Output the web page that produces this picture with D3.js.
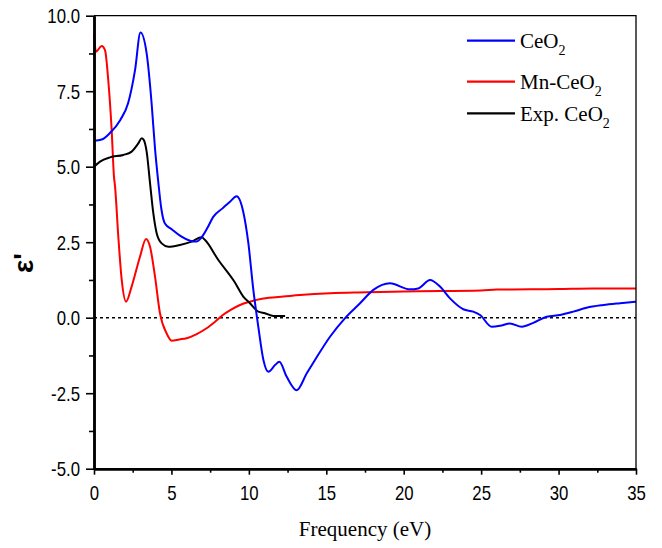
<!DOCTYPE html>
<html>
<head>
<meta charset="utf-8">
<script src="https://cdn.jsdelivr.net/npm/d3@7/dist/d3.min.js"></script>
<style>
  html, body { margin: 0; padding: 0; background: #fff; }
  svg { display: block; }
</style>
</head>
<body>
<svg id="chart" width="662" height="548"></svg>
<script>
// ---- Data ----
const ceo2X = [0, 0.5, 1.0, 1.7, 2.2, 2.65, 3.0, 3.4, 3.72, 3.94, 4.15, 4.35, 4.58, 5.02, 5.6, 6.2, 6.6, 6.95, 7.3, 7.7, 8.3, 8.8, 9.21, 9.64, 9.96, 10.29, 10.61, 10.94, 11.26, 11.69, 11.97, 12.44, 13.09, 13.74, 14.27, 15.24, 16.2, 17.18, 18.04, 19.11, 20.4, 20.94, 21.7, 22.34, 22.99, 23.85, 24.49, 24.93, 25.68, 26.22, 26.86, 27.62, 28.37, 29.23, 30.09, 30.95, 31.81, 32.89, 33.97, 35];
const ceo2Y = [5.86, 5.9, 6.1, 6.55, 7.1, 8.2, 9.44, 8.75, 7.1, 5.6, 4.5, 3.6, 3.12, 2.93, 2.7, 2.55, 2.52, 2.66, 2.95, 3.34, 3.62, 3.85, 4.02, 3.5, 2.5, 0.92, -0.30, -1.40, -1.79, -1.57, -1.46, -1.95, -2.40, -1.84, -1.40, -0.63, -0.02, 0.48, 0.92, 1.14, 0.94, 0.97, 1.25, 1.03, 0.64, 0.28, 0.2, 0.09, -0.30, -0.27, -0.19, -0.30, -0.17, 0.03, 0.09, 0.2, 0.33, 0.42, 0.48, 0.53];

const mnX = [0, 0.13, 0.5, 0.71, 0.92, 1.14, 1.29, 1.36, 1.57, 1.79, 2.07, 2.43, 2.97, 3.36, 3.62, 3.94, 4.26, 4.69, 5.02, 5.5, 5.98, 6.6, 7.27, 7.8, 8.3, 8.8, 9.43, 10.07, 10.5, 11.3, 12.22, 13.3, 15.24, 17.6, 20, 25, 26, 30, 32.2, 35];
const mnY = [9.39, 8.81, 9.0, 8.86, 7.87, 6.22, 4.67, 4.34, 2.68, 1.25, 0.53, 1.03, 2.02, 2.61, 2.35, 1.36, 0.15, -0.52, -0.76, -0.72, -0.68, -0.55, -0.35, -0.14, 0.08, 0.25, 0.42, 0.53, 0.59, 0.66, 0.70, 0.75, 0.81, 0.84, 0.87, 0.90, 0.93, 0.95, 0.97, 0.97];

const expX = [0, 0.39, 1.03, 1.89, 2.43, 2.86, 3.08, 3.2, 3.4, 3.62, 3.83, 4.05, 4.37, 4.8, 5.55, 6.31, 6.95, 7.17, 8.03, 9.07, 9.64, 10.07, 10.61, 11.04, 11.58, 12.34];
const expY = [5.0, 5.17, 5.31, 5.39, 5.5, 5.77, 5.94, 5.9, 5.5, 4.45, 3.46, 2.79, 2.46, 2.35, 2.41, 2.52, 2.66, 2.57, 1.91, 1.19, 0.70, 0.48, 0.2, 0.15, 0.06, 0.06];

const seriesNames = ["CeO", "Mn-CeO", "Exp. CeO"];
const seriesColors = ["#0000ff", "#ff0000", "#000000"];
const xMajorTicks = [0, 5, 10, 15, 20, 25, 30, 35];
const xMinorTicks = [2.5, 7.5, 12.5, 17.5, 22.5, 27.5, 32.5];
const yMajorTicks = [-5, -2.5, 0, 2.5, 5, 7.5, 10];
const yMinorTicks = [-3.75, -1.25, 1.25, 3.75, 6.25, 8.75];
const xTitle = "Frequency (eV)";
const yTitle = "\u03b5'";

// ---- Layout ----
const svg = d3.select("#chart");
const L = 94, R = 636, T = 15.7, B = 468.7;
const x = d3.scaleLinear().domain([0, 35]).range([L, R]);
const y = d3.scaleLinear().domain([-5, 10]).range([B, T]);

const tickFont = "'Liberation Sans', Arial, sans-serif";
const serif = "'Liberation Serif', 'Times New Roman', serif";
const sx = 0.84; // horizontal squeeze of tick labels
const fmtY = d => d3.format(".1f")(d).replace("\u2212", "-");

// zero dotted line
svg.append("line")
  .attr("x1", x(0)).attr("x2", x(35))
  .attr("y1", y(0)).attr("y2", y(0))
  .attr("stroke", "#000").attr("stroke-width", 1.4)
  .attr("stroke-dasharray", "3,3");

// curves
const series = [
  {xs: ceo2X, ys: ceo2Y},
  {xs: mnX, ys: mnY},
  {xs: expX, ys: expY}
];
const line = d3.line().x(d => x(d[0])).y(d => y(d[1])).curve(d3.curveMonotoneX);
[1, 2, 0].forEach(i => {
  const s = series[i];
  svg.append("path")
    .datum(s.xs.map((v, k) => [v, s.ys[k]]))
    .attr("fill", "none")
    .attr("stroke", seriesColors[i])
    .attr("stroke-width", 2)
    .attr("stroke-linejoin", "round")
    .attr("d", line);
});

// frame (top & right)
svg.append("path")
  .attr("d", `M${L},${T}H${R}V${B}`)
  .attr("fill", "none").attr("stroke", "#000").attr("stroke-width", 1.3);

// axes
const xAxis = svg.append("g").attr("transform", `translate(0,${B})`)
  .call(d3.axisBottom(x).tickValues(xMajorTicks).tickSize(6).tickSizeOuter(0).tickFormat(d3.format("d")));
const xMinor = svg.append("g").attr("transform", `translate(0,${B})`)
  .call(d3.axisBottom(x).tickValues(xMinorTicks).tickSize(4).tickSizeOuter(0).tickFormat(""));
const yAxis = svg.append("g").attr("transform", `translate(${L},0)`)
  .call(d3.axisLeft(y).tickValues(yMajorTicks).tickSize(8).tickSizeOuter(0).tickFormat(fmtY));
const yMinor = svg.append("g").attr("transform", `translate(${L},0)`)
  .call(d3.axisLeft(y).tickValues(yMinorTicks).tickSize(5).tickSizeOuter(0).tickFormat(""));

[xAxis, xMinor, yAxis, yMinor].forEach(g => {
  g.select(".domain").attr("stroke", "#000").attr("stroke-width", 2.5);
  g.selectAll(".tick line").attr("stroke", "#000").attr("stroke-width", 1.6);
  g.selectAll(".tick text").attr("fill", "#000")
    .style("font-family", tickFont).style("font-size", "20px")
    .attr("transform", `scale(${sx},1)`);
});
xAxis.selectAll(".tick text").attr("y", 31.3).attr("dy", 0);
yAxis.selectAll(".tick text").attr("x", -14 / sx).attr("dy", "0.36em");

// axis titles
svg.append("text")
  .attr("x", 365).attr("y", 536)
  .attr("text-anchor", "middle")
  .style("font-family", serif).style("font-size", "21px")
  .text(xTitle);

svg.append("text")
  .attr("transform", "translate(33,263) rotate(-90)")
  .attr("text-anchor", "middle")
  .style("font-family", tickFont).style("font-size", "28px").style("font-weight", "bold")
  .text(yTitle);

// legend
const legY = [40.7, 81.7, 113.3];
seriesNames.forEach((name, i) => {
  svg.append("line")
    .attr("x1", 467).attr("x2", 515)
    .attr("y1", legY[i]).attr("y2", legY[i])
    .attr("stroke", seriesColors[i]).attr("stroke-width", 2.2);
  const t = svg.append("text")
    .attr("x", 520).attr("y", legY[i] + 7.5)
    .style("font-family", serif).style("font-size", "21px");
  t.append("tspan").text(name);
  t.append("tspan").attr("dy", 7).style("font-size", "14px").text("2");
});
</script>
</body>
</html>
